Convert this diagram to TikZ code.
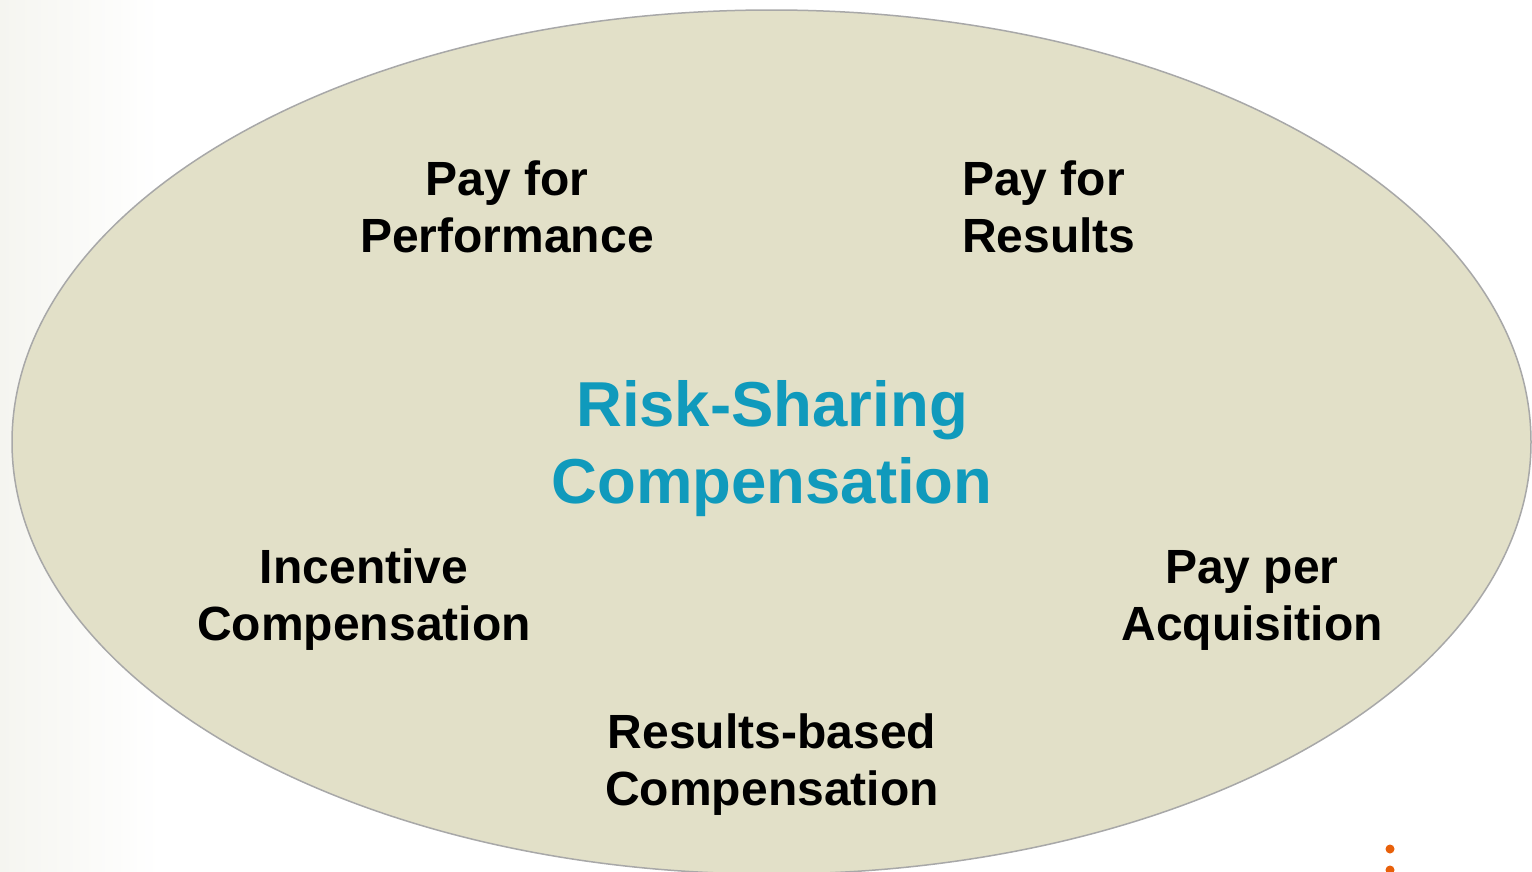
\documentclass[tikz,border=0pt]{standalone}
\usepackage{fontspec}
\setmainfont{Liberation Sans}
\usetikzlibrary{shapes.geometric}
\definecolor{ellfill}{RGB}{226,224,200}
\definecolor{elldraw}{RGB}{168,168,168}
\definecolor{tealc}{RGB}{16,154,188}
\definecolor{dotor}{RGB}{232,96,10}
\definecolor{bgl}{RGB}{245,245,240}
\begin{document}
\begin{tikzpicture}[x=1pt,y=-1pt,
  lbl/.style={font=\bfseries\fontsize{48}{57}\selectfont, align=center, anchor=base, inner sep=0pt},
  lbll/.style={font=\bfseries\fontsize{48}{57}\selectfont, align=left, anchor=base west, inner sep=0pt},
  title/.style={font=\bfseries\fontsize{63.5}{77}\selectfont, text=tealc, align=center, anchor=base, inner sep=0pt},
  dot/.style={circle, fill=dotor, inner sep=0pt, minimum size=9pt}]
\useasboundingbox (0,0) rectangle (1532,871);
\clip (0,0) rectangle (1532,871);
\fill[white] (0,0) rectangle (1532,871);
\shade[left color=bgl, right color=white] (0,0) rectangle (160,871);
\node[ellipse, draw=elldraw, line width=1.5pt, fill=ellfill, minimum width=1519pt, minimum height=864pt, inner sep=0pt] (ell) at (771.5,442) {};
\node[lbl] (pfp) at (507,252) {Pay for\\Performance};
\node[lbll] (pfr) at (962,252) {Pay for\\Results};
\node[title] (rsc) at (772,503) {Risk-Sharing\\Compensation};
\node[lbl] (ic) at (364,640) {Incentive\\Compensation};
\node[lbl] (ppa) at (1252,640) {Pay per\\Acquisition};
\node[lbl] (rbc) at (772,805) {Results-based\\Compensation};
\node[dot] (d1) at (1390,849) {};
\node[dot] (d2) at (1390,870) {};
\end{tikzpicture}
\end{document}
